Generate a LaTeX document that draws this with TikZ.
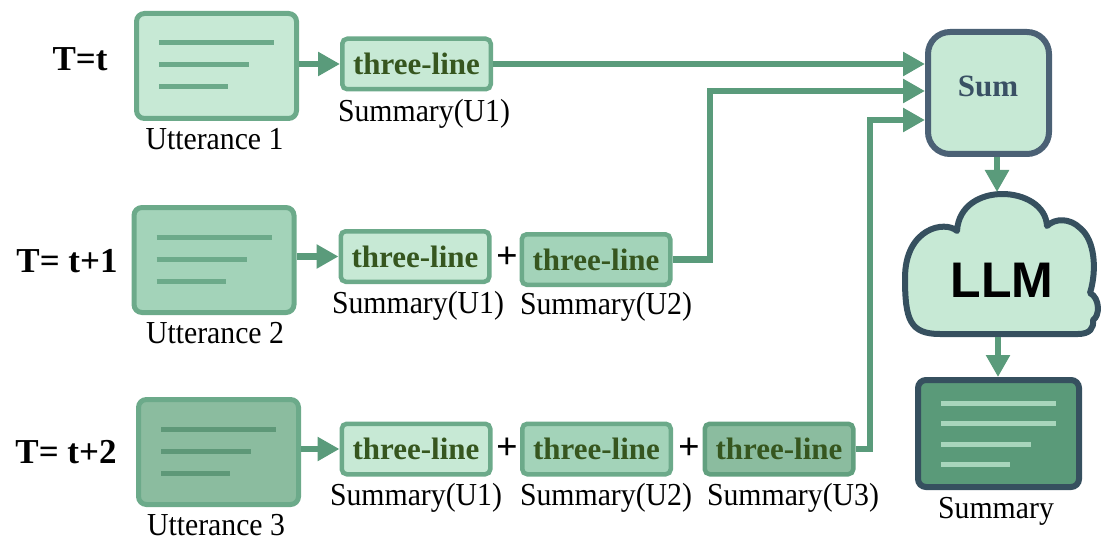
\documentclass[tikz,border=0pt]{standalone}
\usepackage{fontspec}
\setmainfont{Liberation Serif}
\newfontfamily\lblfont{Liberation Serif}[FakeStretch=0.93]
\newfontfamily\llmfont{Liberation Sans}
\usetikzlibrary{arrows.meta,calc}

\definecolor{fillA}{HTML}{C7E9D5}
\definecolor{fillB}{HTML}{A3D3B9}
\definecolor{fillC}{HTML}{8BBC9F}
\definecolor{edgeG}{HTML}{6CAA8A}
\definecolor{edgeGd}{HTML}{62A07F}
\definecolor{docG}{HTML}{5E9878}
\definecolor{wire}{HTML}{5A9B7B}
\definecolor{tlink}{HTML}{36561F}
\definecolor{slate}{HTML}{4B6175}
\definecolor{slatetext}{HTML}{3A5064}
\definecolor{cloudedge}{HTML}{36505F}
\definecolor{outfill}{HTML}{5A9A79}
\definecolor{outline}{HTML}{A8D5BC}

\begin{document}
\begin{tikzpicture}[x=1pt,y=-1pt,
  utter/.style={draw=edgeG, line width=5pt, rounded corners=8pt,
    minimum width=160pt, minimum height=105pt, inner sep=0pt},
  tlbox/.style={draw=edgeG, line width=4.5pt, rounded corners=5pt,
    minimum width=148.5pt, minimum height=50.5pt, inner sep=0pt,
    font=\fontsize{31}{31}\selectfont\bfseries, text=tlink},
  docline/.style={line width=5pt},
  lbl/.style={anchor=base, inner sep=0pt, font=\lblfont\fontsize{32}{32}\selectfont},
  tlab/.style={anchor=base, inner sep=0pt, font=\fontsize{35}{35}\selectfont\bfseries},
  plus/.style={inner sep=0pt, font=\fontsize{38}{38}\selectfont\bfseries},
  conn/.style={draw=wire, line width=6.5pt},
  arr/.style={conn, -{Triangle[length=22pt,width=23pt]}},
]
\useasboundingbox (0,0) rectangle (1102,540);

% ---- time step labels
\node[tlab] (t1) at (80,71) {T=t};
\node[tlab] (t2) at (67,272) {T= t+1};
\node[tlab] (t3) at (66,463) {T= t+2};

% ---- utterance documents
\node[utter, fill=fillA] (u1) at (216.5,66) {};
\node[utter, fill=fillB] (u2) at (214,260) {};
\node[utter, fill=fillC] (u3) at (218.5,452) {};
\foreach \b/\c in {u1/edgeG, u2/edgeG, u3/docG} {
  \draw[docline, draw=\c] ($(\b.west)+(25,-23)$) -- ++(115,0);
  \draw[docline, draw=\c] ($(\b.west)+(25,-1)$) -- ++(90,0);
  \draw[docline, draw=\c] ($(\b.west)+(25,21)$) -- ++(69,0);
}
\node[lbl] (u1l) at (214.5,150) {Utterance 1};
\node[lbl] (u2l) at (215,343) {Utterance 2};
\node[lbl] (u3l) at (216,535) {Utterance 3};

% ---- three-line summaries
\node[tlbox, fill=fillA] (a1) at (416.5,64) {three-line};

\node[tlbox, fill=fillA] (b1) at (415,256.5) {three-line};
\node[plus] (pb) at (507,258) {+};
\node[tlbox, fill=fillB] (b2) at (596,259.5) {three-line};

\node[tlbox, fill=fillA] (c1) at (416,449) {three-line};
\node[plus] (pc1) at (507,449) {+};
\node[tlbox, fill=fillB] (c2) at (596.5,449) {three-line};
\node[plus] (pc2) at (689,449) {+};
\node[tlbox, fill=fillC, draw=edgeGd] (c3) at (779,449) {three-line};

\node[lbl] (a1l) at (424,122) {Summary(U1)};
\node[lbl] (b1l) at (418,313) {Summary(U1)};
\node[lbl] (b2l) at (606,314) {Summary(U2)};
\node[lbl] (c1l) at (416,505) {Summary(U1)};
\node[lbl] (c2l) at (606,505) {Summary(U2)};
\node[lbl] (c3l) at (793,505) {Summary(U3)};

% ---- Sum block
\node[draw=slate, line width=6pt, fill=fillA, rounded corners=22pt,
  minimum width=121pt, minimum height=122pt, inner sep=0pt] (sum) at (988.5,93) {};
\node[anchor=base, inner sep=0pt, text=slatetext,
  font=\fontsize{31}{31}\selectfont\bfseries] (sumt) at (988,97) {Sum};

% ---- LLM cloud
\draw[draw=cloudedge, line width=6pt, line join=round, fill=fillA]
  (940,334) -- (1078,334)
  .. controls (1090,334) and (1094,328) .. (1093,320)
  .. controls (1100,316) and (1100,298) .. (1090,293)
  .. controls (1097,270) and (1095,240) .. (1080,228)
  .. controls (1070,218) and (1055,218) .. (1047,226)
  .. controls (1045,185) and (960,180) .. (957,231)
  .. controls (945,220) and (905,228) .. (905,278)
  .. controls (905,320) and (910,334) .. (940,334) -- cycle;
\node[anchor=base, inner sep=0pt, font={\llmfont\fontsize{50}{50}\selectfont\bfseries}] (llm) at (1002,297) {LLM};
\coordinate (cloudtop) at (997,192);
\coordinate (cloudbot) at (998,337);

% ---- output summary document
\node[draw=cloudedge, line width=6pt, fill=outfill, rounded corners=8pt,
  minimum width=161pt, minimum height=107pt, inner sep=0pt] (out) at (998.5,433.5) {};
\draw[docline, draw=outline] ($(out.west)+(26,-30.5)$) -- ++(115,0);
\draw[docline, draw=outline] ($(out.west)+(26,-10.5)$) -- ++(115,0);
\draw[docline, draw=outline] ($(out.west)+(26,10.5)$) -- ++(90,0);
\draw[docline, draw=outline] ($(out.west)+(26,30.5)$) -- ++(69,0);
\node[lbl] (outl) at (996,518) {Summary};

% ---- connectors
\draw[arr] (a1.west -| u1.east) -- (a1.west);
\draw[arr] (b1.west -| u2.east) -- (b1.west);
\draw[arr] (c1.west -| u3.east) -- (c1.west);

\draw[arr] (a1.east) -- (a1.east -| sum.west);
\draw[arr] (b2.east) -- ++(37.5,0) |- ($(sum.west)+(0,-2)$);
\draw[arr] (c3.east) -- ++(14.5,0) |- ($(sum.west)+(0,27)$);

\draw[arr] (sum.south -| cloudtop) -- (cloudtop);
\draw[arr] (cloudbot) -- (cloudbot |- out.north);
\end{tikzpicture}
\end{document}
